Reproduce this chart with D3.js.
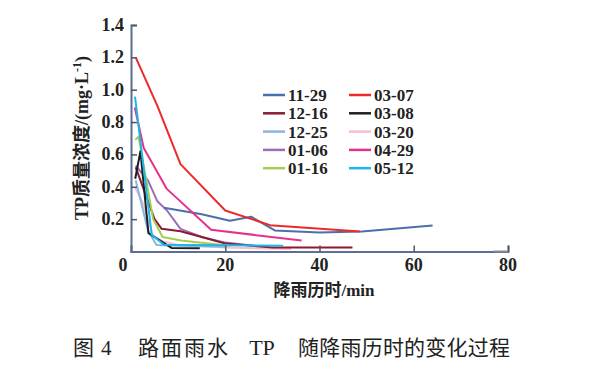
<!DOCTYPE html>
<html>
<head>
<meta charset="utf-8">
<script src="https://cdn.jsdelivr.net/npm/d3@7"></script>
<style>
  body { margin: 0; background: #fff; }
  svg { display: block; }
</style>
</head>
<body>
<div id="chart"></div>
<script>
// Data: [time (min), TP (mg/L)]
const names = ["11-29", "12-16", "12-25", "01-06", "01-16", "03-07", "03-08", "03-20", "04-29", "05-12"];
const colors = ["#4a6fae", "#8b1a33", "#8db4e2", "#9a6cbb", "#a6cd52", "#ee2a26", "#1e1e1e", "#f6bdd3", "#e6318a", "#1cb6e8"];

const s1129 = [[7, 0.27], [15, 0.23], [21, 0.19], [25.5, 0.215], [30.5, 0.13], [40, 0.118], [49, 0.124], [64, 0.16]];
const s1216 = [[1, 0.52], [5, 0.2], [6.5, 0.14], [10.5, 0.125], [15, 0.09], [20, 0.05], [30, 0.025], [47, 0.025]];
const s1225 = [[1, 0.44], [3.6, 0.13], [5.4, 0.04], [10, 0.035], [20, 0.03]];
const s0106 = [[1, 0.53], [3.6, 0.44], [5.6, 0.31], [7.6, 0.255], [10.5, 0.14], [15, 0.09], [20, 0.055], [26, 0.035]];
const s0116 = [[0.9, 0.69], [1.6, 0.71], [4.7, 0.2], [6.7, 0.09], [10.6, 0.068], [21, 0.035]];
const s0307 = [[1, 1.2], [5.6, 0.9], [10.5, 0.54], [20, 0.253], [29.5, 0.163], [48.6, 0.124]];
const s0308 = [[0.9, 0.45], [2, 0.62], [3.7, 0.113], [8.6, 0.022], [14.6, 0.02]];
const s0320 = [[0.8, 0.4], [2.5, 0.3], [4.7, 0.095], [7, 0.06], [10, 0.04], [20, 0.025], [34, 0.015]];
const s0429 = [[0.8, 0.89], [2.7, 0.64], [7.6, 0.387], [17, 0.134], [36.2, 0.068]];
const s0512 = [[0.85, 0.957], [4.4, 0.103], [7, 0.041], [32.3, 0.036]];
const seriesData = [s1129, s1216, s1225, s0106, s0116, s0307, s0308, s0320, s0429, s0512];

const xTicks = [0, 20, 40, 60, 80];
const yTicks = [0.2, 0.4, 0.6, 0.8, 1.0, 1.2, 1.4];

const width = 597, height = 376;
const svg = d3.select("#chart").append("svg")
  .attr("width", width).attr("height", height);

const x = d3.scaleLinear().domain([0, 80]).range([131, 508]);
const y = d3.scaleLinear().domain([0, 1.4]).range([251.5, 25]);

const serif = "'Liberation Serif', 'Times New Roman', 'Noto Sans CJK SC', serif";
const axisColor = "#5a6e98";

// Lines
const line = d3.line().x(d => x(d[0])).y(d => y(d[1]));
const drawOrder = [7, 2, 3, 1, 4, 0, 8, 6, 9, 5];
drawOrder.forEach(i => {
  svg.append("path")
    .datum(seriesData[i])
    .attr("d", line)
    .attr("fill", "none")
    .attr("stroke", colors[i])
    .attr("stroke-width", 2)
    .attr("stroke-linejoin", "round");
});

// Axes
const gx = svg.append("g")
  .attr("transform", `translate(0,${y(0)})`)
  .call(d3.axisTop(x).tickValues(xTicks).tickSize(6).tickFormat(""));
gx.select(".domain").attr("stroke", axisColor).attr("stroke-width", 2);
gx.selectAll(".tick line").attr("stroke", "#555").attr("stroke-width", 1.5);
// grey tail of the x axis line
svg.append("line")
  .attr("x1", x(77)).attr("x2", x(80))
  .attr("y1", y(0)).attr("y2", y(0))
  .attr("stroke", "#8a8a8a").attr("stroke-width", 2);

svg.selectAll(".xlab")
  .data(xTicks)
  .enter().append("text")
  .attr("x", d => x(d) - (d === 0 ? 8 : 0))
  .attr("y", y(0) + 19)
  .attr("text-anchor", "middle")
  .attr("font-family", serif)
  .attr("font-weight", "bold")
  .attr("font-size", 18)
  .attr("fill", "#222")
  .text(d => d);

const gy = svg.append("g")
  .attr("transform", `translate(${x(0)},0)`)
  .call(d3.axisRight(y).tickValues(yTicks).tickSize(6).tickFormat(""));
gy.select(".domain").attr("stroke", axisColor).attr("stroke-width", 2);
gy.selectAll(".tick line").attr("stroke", "#555").attr("stroke-width", 1.5);

svg.selectAll(".ylab")
  .data(yTicks)
  .enter().append("text")
  .attr("x", x(0) - 7)
  .attr("y", d => y(d) + 6)
  .attr("text-anchor", "end")
  .attr("font-family", serif)
  .attr("font-weight", "bold")
  .attr("font-size", 18)
  .attr("fill", "#222")
  .text(d => d.toFixed(1));

// Axis titles
svg.append("text")
  .attr("x", 324).attr("y", 296)
  .attr("text-anchor", "middle")
  .attr("font-family", serif)
  .attr("font-weight", "bold")
  .attr("font-size", 17)
  .attr("fill", "#222")
  .text("降雨历时/min");

const yt = svg.append("text")
  .attr("transform", "translate(88,138) rotate(-90)")
  .attr("text-anchor", "middle")
  .attr("font-family", serif)
  .attr("font-weight", "bold")
  .attr("font-size", 18)
  .attr("fill", "#222");
yt.append("tspan").text("TP质量浓度/(mg·L");
yt.append("tspan").attr("dy", -7).attr("font-size", 12).text("-1");
yt.append("tspan").attr("dy", 7).text(")");

// Legend
const legend = svg.append("g");
names.forEach((n, i) => {
  const col = i < 5 ? 0 : 1;
  const row = i % 5;
  const lx = col === 0 ? 263 : 349;
  const ly = 95 + row * 18.3;
  legend.append("line")
    .attr("x1", lx).attr("x2", lx + 22)
    .attr("y1", ly).attr("y2", ly)
    .attr("stroke", colors[i]).attr("stroke-width", 2.5);
  legend.append("text")
    .attr("x", lx + 25).attr("y", ly + 6)
    .attr("font-family", serif)
    .attr("font-weight", "bold")
    .attr("font-size", 17)
    .attr("fill", "#222")
    .text(n);
});

// Caption
const cap = svg.append("g")
  .attr("font-size", 21)
  .attr("fill", "#222");
cap.append("text").attr("x", 73).attr("y", 355)
  .attr("font-family", "'Noto Sans CJK SC', sans-serif").text("图");
cap.append("text").attr("x", 101).attr("y", 355)
  .attr("font-family", serif).text("4");
cap.append("text").attr("x", 138).attr("y", 355)
  .attr("font-family", "'Noto Sans CJK SC', sans-serif")
  .attr("textLength", 90).text("路面雨水");
cap.append("text").attr("x", 262).attr("y", 355)
  .attr("text-anchor", "middle")
  .attr("font-family", serif).attr("font-size", 22)
  .text("TP");
cap.append("text").attr("x", 298).attr("y", 355)
  .attr("font-family", "'Noto Sans CJK SC', sans-serif")
  .attr("textLength", 212).text("随降雨历时的变化过程");
</script>
</body>
</html>
